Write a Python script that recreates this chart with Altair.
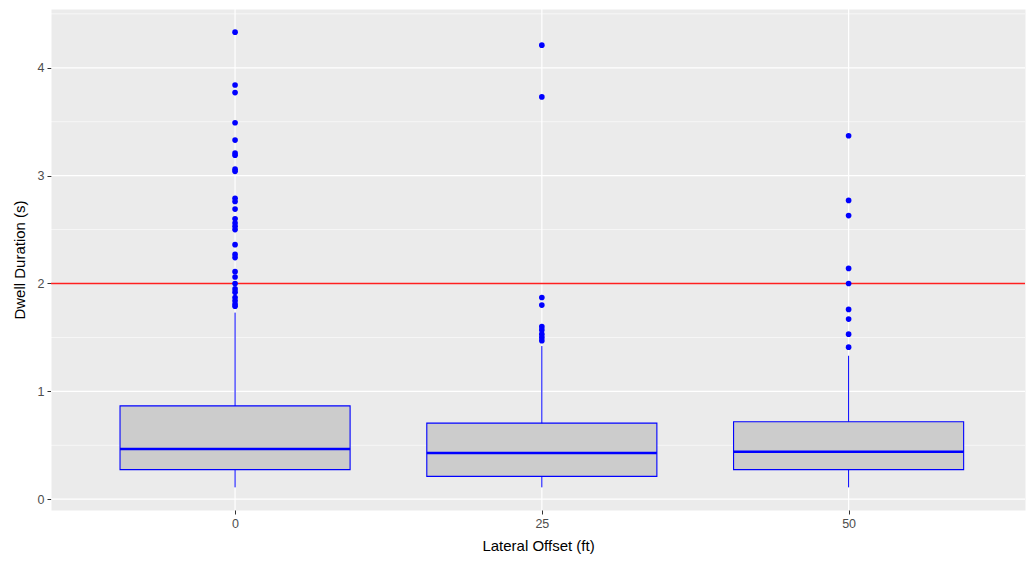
import altair as alt
import pandas as pd

# ---- data ----
offsets = ["0", "25", "50"]           # x categories (Lateral Offset, ft)
q1 = [0.274, 0.212, 0.274]
median = [0.465, 0.428, 0.440]
q3 = [0.865, 0.705, 0.718]
whisk_lo = [0.11, 0.11, 0.11]
whisk_hi = [1.73, 1.42, 1.33]

out_0 = [4.33, 3.84, 3.77, 3.49, 3.33, 3.21, 3.19, 3.06, 3.04, 2.79, 2.76, 2.69,
         2.60, 2.56, 2.53, 2.50, 2.36, 2.27, 2.24, 2.11, 2.06, 2.00, 1.95, 1.92,
         1.87, 1.84, 1.81, 1.79]
out_25 = [4.21, 3.73, 1.87, 1.80, 1.60, 1.57, 1.53, 1.50, 1.47]
out_50 = [3.37, 2.77, 2.63, 2.14, 2.00, 1.76, 1.67, 1.53, 1.41]

threshold = [2.0]
y_major = [0, 1, 2, 3, 4]
y_minor = [0.5, 1.5, 2.5, 3.5, 4.5]

# ---- tables ----
pos = list(range(1, len(offsets) + 1))
half = 0.375
box_df = pd.DataFrame({"pos": pos, "q1": q1, "median": median, "q3": q3,
                       "lo": whisk_lo, "hi": whisk_hi})
box_df["left"] = box_df["pos"] - half
box_df["right"] = box_df["pos"] + half

out_df = pd.DataFrame(
    [{"pos": p, "y": v} for p, vals in zip(pos, [out_0, out_25, out_50]) for v in vals]
)

label_expr = " : ".join(
    f"datum.value == {p} ? '{o}'" for p, o in zip(pos, offsets)
) + " : ''"

xscale = alt.Scale(domain=[0.4, 3.575], nice=False, zero=False)
yscale = alt.Scale(domain=[-0.1, 4.545], nice=False, zero=False)

BLUE = "#0000FF"

xaxis = alt.Axis(values=pos, labelExpr=label_expr, title="Lateral Offset (ft)",
                 grid=False, domain=False, tickColor="#333333", tickSize=4,
                 labelColor="#4D4D4D", labelFontSize=12.5, labelPadding=3,
                 titleFontSize=15, titleColor="#000000", titleFontWeight="normal",
                 titlePadding=9, labelFont="Liberation Sans", titleFont="Liberation Sans")
yaxis = alt.Axis(values=y_major, format="d", title="Dwell Duration (s)",
                 grid=False, domain=False, tickColor="#333333", tickSize=4,
                 labelColor="#4D4D4D", labelFontSize=12.5, labelPadding=3,
                 titleFontSize=15, titleColor="#000000", titleFontWeight="normal",
                 titlePadding=10, labelFont="Liberation Sans", titleFont="Liberation Sans")

grid_minor = alt.Chart(pd.DataFrame({"gy": y_minor})).mark_rule(
    color="white", strokeWidth=0.6
).encode(y=alt.Y("gy:Q", scale=yscale, axis=yaxis))

grid_major = alt.Chart(pd.DataFrame({"gy": y_major})).mark_rule(
    color="white", strokeWidth=1.2
).encode(y=alt.Y("gy:Q", scale=yscale))

grid_x = alt.Chart(pd.DataFrame({"gx": pos})).mark_rule(
    color="white", strokeWidth=1.2
).encode(x=alt.X("gx:Q", scale=xscale, axis=xaxis))

whisker = alt.Chart(box_df).mark_rule(color=BLUE, strokeWidth=1).encode(
    x=alt.X("pos:Q", scale=xscale), y=alt.Y("lo:Q", scale=yscale), y2="hi:Q"
)

box = alt.Chart(box_df).mark_rect(fill="#CCCCCC", stroke=BLUE, strokeWidth=1.1).encode(
    x=alt.X("left:Q", scale=xscale), x2="right:Q",
    y=alt.Y("q1:Q", scale=yscale), y2="q3:Q"
)

med = alt.Chart(box_df).mark_rule(color=BLUE, strokeWidth=2.4).encode(
    x=alt.X("left:Q", scale=xscale), x2="right:Q",
    y=alt.Y("median:Q", scale=yscale)
)

hline = alt.Chart(pd.DataFrame({"ty": threshold})).mark_rule(
    color="#FF2020", strokeWidth=1.6
).encode(y=alt.Y("ty:Q", scale=yscale))

pts = alt.Chart(out_df).mark_circle(color=BLUE, opacity=1, size=32).encode(
    x=alt.X("pos:Q", scale=xscale), y=alt.Y("y:Q", scale=yscale)
)

chart = alt.layer(
    grid_minor, grid_major, grid_x, whisker, box, med, hline, pts
).properties(
    width=1018, height=546,
    background="white",
    view=alt.ViewBackground(fill="#EBEBEB", strokeOpacity=0),
    autosize=alt.AutoSizeParams(type="fit", contains="padding"),
    padding={"left": 4, "top": 0, "right": 0, "bottom": 0},
)

chart.save("out.html", embed_options={"renderer": "svg", "actions": False})
